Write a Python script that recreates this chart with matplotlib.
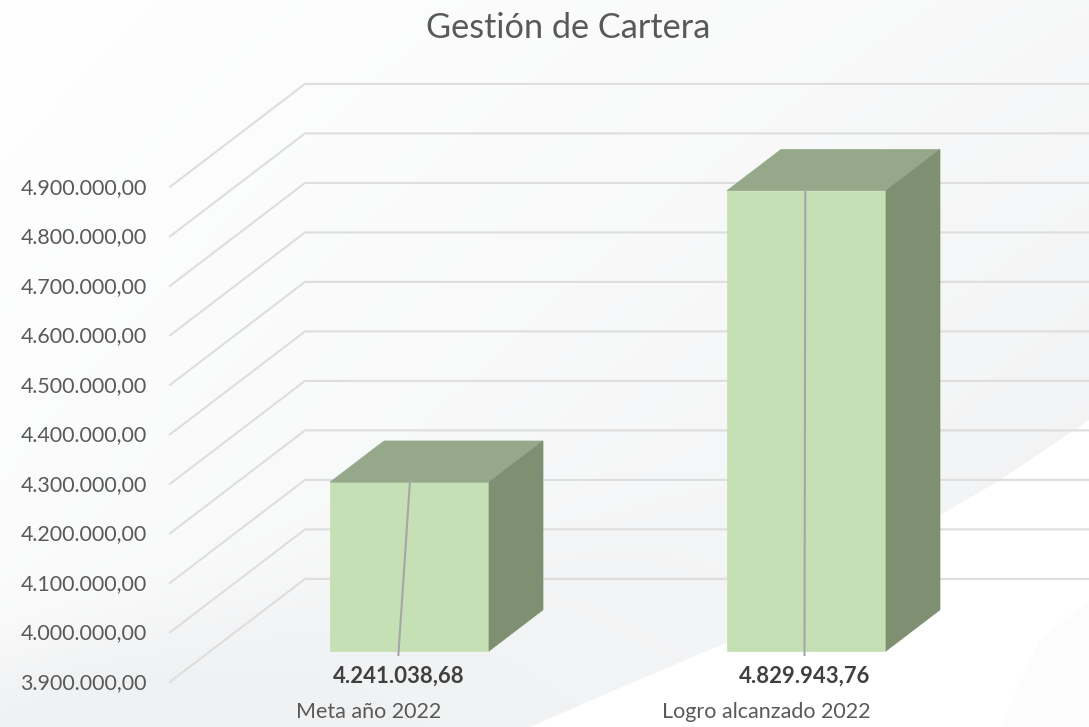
import matplotlib
matplotlib.use("Agg")
import matplotlib.pyplot as plt
from matplotlib.patches import Polygon
import numpy as np

categories = ["Meta año 2022", "Logro alcanzado 2022"]
values = [4241038.68, 4829943.76]
value_labels = ["4.241.038,68", "4.829.943,76"]
tick_values = [3900000, 4000000, 4100000, 4200000, 4300000, 4400000,
               4500000, 4600000, 4700000, 4800000, 4900000]
tick_labels = ["3.900.000,00", "4.000.000,00", "4.100.000,00", "4.200.000,00",
               "4.300.000,00", "4.400.000,00", "4.500.000,00", "4.600.000,00",
               "4.700.000,00", "4.800.000,00", "4.900.000,00"]

plt.rcParams["font.family"] = ["Lato", "DejaVu Sans"]

W, H = 1089, 727
fig = plt.figure(figsize=(W / 100, H / 100), dpi=100)
ax = fig.add_axes([0, 0, 1, 1])

# axis scale, worked out from the picture
PX_PER_CAT = 397.0
PX_PER_VAL = 49.5 / 100000
x0_px = 409.5
base = 3900000
base_py = 651
ax.set_xlim(-x0_px / PX_PER_CAT, (W - x0_px) / PX_PER_CAT)
ax.set_ylim(base - (H - base_py) / PX_PER_VAL, base + base_py / PX_PER_VAL)
ax.axis("off")
xlim, ylim = ax.get_xlim(), ax.get_ylim()

# 3d offsets, one unit of depth = whole floor
DX = 135 / PX_PER_CAT
DY = 103 / PX_PER_VAL
BAR_PLANE = 0.30
BAR_DEPTH = 0.40
BAR_W = 159 / PX_PER_CAT


def proj(x, v, d):
    return x + d * DX, v + d * DY


def px(p, py):
    return (p - x0_px) / PX_PER_CAT, base + (base_py - py) / PX_PER_VAL


# background
xx, yy = np.meshgrid(np.arange(W) / W, np.arange(H) / H)
shade = 0.028 * xx + 0.018 * yy + 0.012 * xx * yy
edge = (660 - 0.22 * xx * W - yy * H) / 25
shade += 0.04 * (1 / (1 + np.exp(edge))) * np.clip(1.1 - xx * 1.6, 0, 1)
bg = np.ones((H, W, 3))
bg[..., 0] -= shade * 1.05
bg[..., 1] -= shade * 0.97
bg[..., 2] -= shade * 0.88
ax.imshow(bg, extent=[xlim[0], xlim[1], ylim[0], ylim[1]], origin="upper",
          aspect="auto", zorder=0)

lower_right = [(1089, 420), (1000, 480), (940, 515), (728, 642), (608, 693),
               (530, 727), (1089, 727)]
ax.add_patch(Polygon([px(*p) for p in lower_right], fc="white", ec="none", zorder=0.6))
corner = [(1089, 600), (1040, 640), (1000, 727), (1089, 727)]
ax.add_patch(Polygon([px(*p) for p in corner], fc="#fcfcfc", ec="none", zorder=0.7))

# gridlines on side wall and back wall
back_plane = 1 - BAR_PLANE
front_plane = -BAR_PLANE
x_left = (170 + 135 * BAR_PLANE - x0_px) / PX_PER_CAT
for v in tick_values:
    a = proj(x_left, v, front_plane)
    b = proj(x_left, v, back_plane)
    ax.plot([a[0], b[0], xlim[1]], [a[1], b[1], b[1]], color="#dedede", lw=1.5, zorder=1)

for v, t in zip(tick_values, tick_labels):
    a = proj(x_left, v, front_plane)
    ax.text(a[0] - 23 / PX_PER_CAT, a[1] - 2000, t, ha="right", va="center", fontsize=15.4,
            color="#595959", zorder=5)

# bars
for i, v in enumerate(values):
    l = i - BAR_W / 2
    r = i + BAR_W / 2
    front = [(l, base), (r, base), (r, v), (l, v)]
    ax.add_patch(Polygon(front, fc="#c5e0b4", ec="#c5e0b4", lw=0.5, zorder=3))
    top = [(l, v), (r, v), proj(r, v, BAR_DEPTH), proj(l, v, BAR_DEPTH)]
    ax.add_patch(Polygon(top, fc="#95a98a", ec="#95a98a", lw=0.5, zorder=3))
    side = [(r, base), proj(r, base, BAR_DEPTH), proj(r, v, BAR_DEPTH), (r, v)]
    ax.add_patch(Polygon(side, fc="#7f8f72", ec="#7f8f72", lw=0.5, zorder=3))

# leader lines and value labels
leader_top = [0.001, -0.003]
label_x = [-0.028, -0.005]
for i, v in enumerate(values):
    ax.plot([i + leader_top[i], i + label_x[i]], [v, base - 8000], color="#a6a6a6", lw=1.5, zorder=4)
    ax.text(i + label_x[i], base - 50000, value_labels[i], ha="center", va="center", fontsize=15.9,
            fontweight="bold", color="#404040", zorder=5)

# category labels
for i, c in enumerate(categories):
    ax.text(i - 0.102, base - 124000, c, ha="center", va="center", fontsize=15.5,
            color="#595959", zorder=5)

ax.text(568 / W, 1 - 28 / H, "Gestión de Cartera", transform=ax.transAxes, ha="center", va="center",
        fontsize=24.7, color="#595959", zorder=5)

fig.savefig("out.png", dpi=100)
